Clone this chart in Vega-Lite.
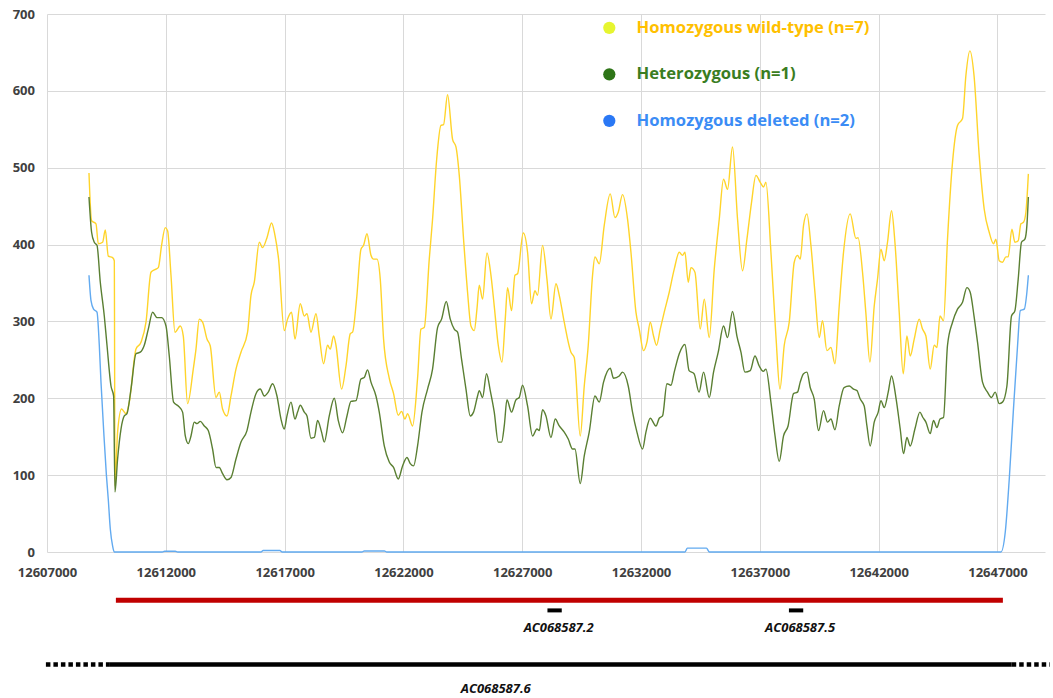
{
"$schema": "https://vega.github.io/schema/vega-lite/v6.json",
"padding": {"left": 12, "top": 8, "right": 0, "bottom": 0},
"autosize": {"type": "pad"},
"background": "white",
"bounds": "flush",
"spacing": 37,
"config": {"view": {"stroke": null}, "font": "Open Sans"},
"resolve": {"scale": {"x": "independent", "y": "independent"}},
"datasets": {
"genes": [{"gene": "AC068587.2", "start": 12628061, "end": 12628663}, {"gene": "AC068587.5", "start": 12638223, "end": 12638825}],
"cov": [
{"pos":12608767,"cov":493,"g":"wt"},{"pos":12608877,"cov":431,"g":"wt"},{"pos":12609062,"cov":427,"g":"wt"},{"pos":12609159,"cov":401,"g":"wt"},{"pos":12609340,"cov":403,"g":"wt"},{"pos":12609453,"cov":419,"g":"wt"},{"pos":12609580,"cov":385,"g":"wt"},{"pos":12609760,"cov":383,"g":"wt"},{"pos":12609832,"cov":379,"g":"wt"},{"pos":12609861,"cov":86,"g":"wt"},{"pos":12609971,"cov":156,"g":"wt"},{"pos":12610139,"cov":186,"g":"wt"},{"pos":12610324,"cov":180,"g":"wt"},{"pos":12610463,"cov":195,"g":"wt"},{"pos":12610745,"cov":264,"g":"wt"},{"pos":12610956,"cov":273,"g":"wt"},{"pos":12611166,"cov":299,"g":"wt"},{"pos":12611376,"cov":364,"g":"wt"},{"pos":12611515,"cov":367,"g":"wt"},{"pos":12611684,"cov":370,"g":"wt"},{"pos":12611822,"cov":399,"g":"wt"},{"pos":12611978,"cov":422,"g":"wt"},{"pos":12612075,"cov":418,"g":"wt"},{"pos":12612218,"cov":360,"g":"wt"},{"pos":12612386,"cov":286,"g":"wt"},{"pos":12612609,"cov":294,"g":"wt"},{"pos":12612736,"cov":281,"g":"wt"},{"pos":12612916,"cov":193,"g":"wt"},{"pos":12613156,"cov":238,"g":"wt"},{"pos":12613270,"cov":264,"g":"wt"},{"pos":12613409,"cov":303,"g":"wt"},{"pos":12613548,"cov":299,"g":"wt"},{"pos":12613733,"cov":277,"g":"wt"},{"pos":12613872,"cov":268,"g":"wt"},{"pos":12614112,"cov":201,"g":"wt"},{"pos":12614250,"cov":208,"g":"wt"},{"pos":12614389,"cov":186,"g":"wt"},{"pos":12614574,"cov":177,"g":"wt"},{"pos":12614743,"cov":203,"g":"wt"},{"pos":12614953,"cov":238,"g":"wt"},{"pos":12615164,"cov":260,"g":"wt"},{"pos":12615441,"cov":286,"g":"wt"},{"pos":12615584,"cov":334,"g":"wt"},{"pos":12615723,"cov":351,"g":"wt"},{"pos":12615934,"cov":403,"g":"wt"},{"pos":12616072,"cov":396,"g":"wt"},{"pos":12616258,"cov":409,"g":"wt"},{"pos":12616451,"cov":428,"g":"wt"},{"pos":12616594,"cov":412,"g":"wt"},{"pos":12616746,"cov":381,"g":"wt"},{"pos":12616986,"cov":288,"g":"wt"},{"pos":12617124,"cov":303,"g":"wt"},{"pos":12617293,"cov":312,"g":"wt"},{"pos":12617436,"cov":277,"g":"wt"},{"pos":12617659,"cov":323,"g":"wt"},{"pos":12617827,"cov":307,"g":"wt"},{"pos":12617941,"cov":310,"g":"wt"},{"pos":12618109,"cov":286,"g":"wt"},{"pos":12618320,"cov":310,"g":"wt"},{"pos":12618458,"cov":281,"g":"wt"},{"pos":12618639,"cov":245,"g":"wt"},{"pos":12618808,"cov":269,"g":"wt"},{"pos":12618921,"cov":264,"g":"wt"},{"pos":12619060,"cov":281,"g":"wt"},{"pos":12619161,"cov":269,"g":"wt"},{"pos":12619397,"cov":212,"g":"wt"},{"pos":12619582,"cov":242,"g":"wt"},{"pos":12619763,"cov":284,"g":"wt"},{"pos":12619860,"cov":286,"g":"wt"},{"pos":12620028,"cov":329,"g":"wt"},{"pos":12620213,"cov":394,"g":"wt"},{"pos":12620323,"cov":399,"g":"wt"},{"pos":12620466,"cov":414,"g":"wt"},{"pos":12620634,"cov":386,"g":"wt"},{"pos":12620743,"cov":381,"g":"wt"},{"pos":12620886,"cov":381,"g":"wt"},{"pos":12621025,"cov":355,"g":"wt"},{"pos":12621164,"cov":277,"g":"wt"},{"pos":12621404,"cov":226,"g":"wt"},{"pos":12621585,"cov":206,"g":"wt"},{"pos":12621783,"cov":178,"g":"wt"},{"pos":12621922,"cov":183,"g":"wt"},{"pos":12622065,"cov":173,"g":"wt"},{"pos":12622174,"cov":180,"g":"wt"},{"pos":12622384,"cov":164,"g":"wt"},{"pos":12622595,"cov":226,"g":"wt"},{"pos":12622738,"cov":290,"g":"wt"},{"pos":12622877,"cov":292,"g":"wt"},{"pos":12623087,"cov":381,"g":"wt"},{"pos":12623226,"cov":433,"g":"wt"},{"pos":12623394,"cov":509,"g":"wt"},{"pos":12623579,"cov":555,"g":"wt"},{"pos":12623689,"cov":556,"g":"wt"},{"pos":12623857,"cov":595,"g":"wt"},{"pos":12624068,"cov":537,"g":"wt"},{"pos":12624211,"cov":527,"g":"wt"},{"pos":12624350,"cov":490,"g":"wt"},{"pos":12624531,"cov":407,"g":"wt"},{"pos":12624699,"cov":338,"g":"wt"},{"pos":12624842,"cov":294,"g":"wt"},{"pos":12624981,"cov":288,"g":"wt"},{"pos":12625094,"cov":316,"g":"wt"},{"pos":12625191,"cov":347,"g":"wt"},{"pos":12625330,"cov":329,"g":"wt"},{"pos":12625515,"cov":389,"g":"wt"},{"pos":12625684,"cov":360,"g":"wt"},{"pos":12625822,"cov":320,"g":"wt"},{"pos":12625991,"cov":269,"g":"wt"},{"pos":12626146,"cov":247,"g":"wt"},{"pos":12626285,"cov":303,"g":"wt"},{"pos":12626382,"cov":344,"g":"wt"},{"pos":12626550,"cov":314,"g":"wt"},{"pos":12626693,"cov":360,"g":"wt"},{"pos":12626803,"cov":362,"g":"wt"},{"pos":12627043,"cov":415,"g":"wt"},{"pos":12627224,"cov":390,"g":"wt"},{"pos":12627392,"cov":323,"g":"wt"},{"pos":12627535,"cov":340,"g":"wt"},{"pos":12627644,"cov":334,"g":"wt"},{"pos":12627855,"cov":399,"g":"wt"},{"pos":12628040,"cov":355,"g":"wt"},{"pos":12628208,"cov":303,"g":"wt"},{"pos":12628419,"cov":349,"g":"wt"},{"pos":12628558,"cov":334,"g":"wt"},{"pos":12628768,"cov":299,"g":"wt"},{"pos":12629050,"cov":260,"g":"wt"},{"pos":12629189,"cov":253,"g":"wt"},{"pos":12629441,"cov":151,"g":"wt"},{"pos":12629610,"cov":216,"g":"wt"},{"pos":12629778,"cov":269,"g":"wt"},{"pos":12629959,"cov":360,"g":"wt"},{"pos":12630060,"cov":384,"g":"wt"},{"pos":12630241,"cov":375,"g":"wt"},{"pos":12630451,"cov":425,"g":"wt"},{"pos":12630704,"cov":466,"g":"wt"},{"pos":12630902,"cov":435,"g":"wt"},{"pos":12631040,"cov":442,"g":"wt"},{"pos":12631221,"cov":465,"g":"wt"},{"pos":12631432,"cov":433,"g":"wt"},{"pos":12631575,"cov":390,"g":"wt"},{"pos":12631785,"cov":312,"g":"wt"},{"pos":12631924,"cov":290,"g":"wt"},{"pos":12632105,"cov":262,"g":"wt"},{"pos":12632248,"cov":273,"g":"wt"},{"pos":12632387,"cov":299,"g":"wt"},{"pos":12632526,"cov":281,"g":"wt"},{"pos":12632652,"cov":269,"g":"wt"},{"pos":12632808,"cov":290,"g":"wt"},{"pos":12632976,"cov":312,"g":"wt"},{"pos":12633186,"cov":338,"g":"wt"},{"pos":12633397,"cov":368,"g":"wt"},{"pos":12633608,"cov":390,"g":"wt"},{"pos":12633746,"cov":386,"g":"wt"},{"pos":12633847,"cov":390,"g":"wt"},{"pos":12633986,"cov":351,"g":"wt"},{"pos":12634100,"cov":370,"g":"wt"},{"pos":12634268,"cov":364,"g":"wt"},{"pos":12634491,"cov":290,"g":"wt"},{"pos":12634660,"cov":329,"g":"wt"},{"pos":12634870,"cov":279,"g":"wt"},{"pos":12635081,"cov":368,"g":"wt"},{"pos":12635291,"cov":433,"g":"wt"},{"pos":12635471,"cov":485,"g":"wt"},{"pos":12635640,"cov":472,"g":"wt"},{"pos":12635850,"cov":527,"g":"wt"},{"pos":12636061,"cov":433,"g":"wt"},{"pos":12636271,"cov":366,"g":"wt"},{"pos":12636456,"cov":407,"g":"wt"},{"pos":12636650,"cov":455,"g":"wt"},{"pos":12636835,"cov":490,"g":"wt"},{"pos":12637016,"cov":481,"g":"wt"},{"pos":12637155,"cov":475,"g":"wt"},{"pos":12637255,"cov":481,"g":"wt"},{"pos":12637466,"cov":390,"g":"wt"},{"pos":12637676,"cov":281,"g":"wt"},{"pos":12637845,"cov":212,"g":"wt"},{"pos":12638026,"cov":269,"g":"wt"},{"pos":12638236,"cov":299,"g":"wt"},{"pos":12638447,"cov":377,"g":"wt"},{"pos":12638585,"cov":386,"g":"wt"},{"pos":12638699,"cov":381,"g":"wt"},{"pos":12638838,"cov":425,"g":"wt"},{"pos":12638981,"cov":440,"g":"wt"},{"pos":12639149,"cov":399,"g":"wt"},{"pos":12639317,"cov":338,"g":"wt"},{"pos":12639499,"cov":279,"g":"wt"},{"pos":12639637,"cov":301,"g":"wt"},{"pos":12639822,"cov":262,"g":"wt"},{"pos":12639991,"cov":266,"g":"wt"},{"pos":12640159,"cov":245,"g":"wt"},{"pos":12640340,"cov":320,"g":"wt"},{"pos":12640521,"cov":390,"g":"wt"},{"pos":12640803,"cov":440,"g":"wt"},{"pos":12641043,"cov":408,"g":"wt"},{"pos":12641132,"cov":409,"g":"wt"},{"pos":12641321,"cov":364,"g":"wt"},{"pos":12641459,"cov":312,"g":"wt"},{"pos":12641632,"cov":247,"g":"wt"},{"pos":12641813,"cov":320,"g":"wt"},{"pos":12641952,"cov":355,"g":"wt"},{"pos":12642095,"cov":394,"g":"wt"},{"pos":12642233,"cov":379,"g":"wt"},{"pos":12642372,"cov":403,"g":"wt"},{"pos":12642541,"cov":444,"g":"wt"},{"pos":12642684,"cov":403,"g":"wt"},{"pos":12642865,"cov":312,"g":"wt"},{"pos":12643033,"cov":232,"g":"wt"},{"pos":12643189,"cov":281,"g":"wt"},{"pos":12643328,"cov":255,"g":"wt"},{"pos":12643496,"cov":277,"g":"wt"},{"pos":12643706,"cov":303,"g":"wt"},{"pos":12643845,"cov":290,"g":"wt"},{"pos":12643988,"cov":281,"g":"wt"},{"pos":12644169,"cov":238,"g":"wt"},{"pos":12644338,"cov":269,"g":"wt"},{"pos":12644451,"cov":266,"g":"wt"},{"pos":12644582,"cov":307,"g":"wt"},{"pos":12644729,"cov":301,"g":"wt"},{"pos":12644897,"cov":407,"g":"wt"},{"pos":12645108,"cov":507,"g":"wt"},{"pos":12645318,"cov":555,"g":"wt"},{"pos":12645529,"cov":564,"g":"wt"},{"pos":12645671,"cov":620,"g":"wt"},{"pos":12645840,"cov":652,"g":"wt"},{"pos":12646013,"cov":620,"g":"wt"},{"pos":12646231,"cov":516,"g":"wt"},{"pos":12646442,"cov":446,"g":"wt"},{"pos":12646652,"cov":416,"g":"wt"},{"pos":12646833,"cov":401,"g":"wt"},{"pos":12646934,"cov":407,"g":"wt"},{"pos":12647073,"cov":379,"g":"wt"},{"pos":12647212,"cov":377,"g":"wt"},{"pos":12647355,"cov":384,"g":"wt"},{"pos":12647451,"cov":384,"g":"wt"},{"pos":12647607,"cov":420,"g":"wt"},{"pos":12647733,"cov":403,"g":"wt"},{"pos":12647872,"cov":405,"g":"wt"},{"pos":12647986,"cov":427,"g":"wt"},{"pos":12648095,"cov":429,"g":"wt"},{"pos":12648196,"cov":442,"g":"wt"},{"pos":12648300,"cov":492,"g":"wt"},
{"pos":12608767,"cov":462,"g":"het"},{"pos":12608877,"cov":416,"g":"het"},{"pos":12608990,"cov":403,"g":"het"},{"pos":12609104,"cov":399,"g":"het"},{"pos":12609243,"cov":351,"g":"het"},{"pos":12609411,"cov":307,"g":"het"},{"pos":12609525,"cov":269,"g":"het"},{"pos":12609693,"cov":216,"g":"het"},{"pos":12609803,"cov":203,"g":"het"},{"pos":12609861,"cov":78,"g":"het"},{"pos":12609971,"cov":121,"g":"het"},{"pos":12610114,"cov":160,"g":"het"},{"pos":12610253,"cov":177,"g":"het"},{"pos":12610366,"cov":180,"g":"het"},{"pos":12610535,"cov":212,"g":"het"},{"pos":12610745,"cov":258,"g":"het"},{"pos":12610926,"cov":260,"g":"het"},{"pos":12611094,"cov":269,"g":"het"},{"pos":12611263,"cov":290,"g":"het"},{"pos":12611444,"cov":312,"g":"het"},{"pos":12611629,"cov":305,"g":"het"},{"pos":12611822,"cov":305,"g":"het"},{"pos":12612008,"cov":294,"g":"het"},{"pos":12612146,"cov":255,"g":"het"},{"pos":12612327,"cov":195,"g":"het"},{"pos":12612525,"cov":190,"g":"het"},{"pos":12612706,"cov":182,"g":"het"},{"pos":12612820,"cov":151,"g":"het"},{"pos":12612946,"cov":141,"g":"het"},{"pos":12613060,"cov":151,"g":"het"},{"pos":12613198,"cov":169,"g":"het"},{"pos":12613312,"cov":167,"g":"het"},{"pos":12613451,"cov":170,"g":"het"},{"pos":12613619,"cov":164,"g":"het"},{"pos":12613787,"cov":158,"g":"het"},{"pos":12613968,"cov":134,"g":"het"},{"pos":12614112,"cov":110,"g":"het"},{"pos":12614250,"cov":110,"g":"het"},{"pos":12614389,"cov":102,"g":"het"},{"pos":12614574,"cov":94,"g":"het"},{"pos":12614743,"cov":97,"g":"het"},{"pos":12614953,"cov":121,"g":"het"},{"pos":12615164,"cov":143,"g":"het"},{"pos":12615416,"cov":158,"g":"het"},{"pos":12615584,"cov":182,"g":"het"},{"pos":12615795,"cov":206,"g":"het"},{"pos":12615976,"cov":212,"g":"het"},{"pos":12616144,"cov":203,"g":"het"},{"pos":12616312,"cov":208,"g":"het"},{"pos":12616493,"cov":219,"g":"het"},{"pos":12616678,"cov":203,"g":"het"},{"pos":12616847,"cov":173,"g":"het"},{"pos":12616986,"cov":160,"g":"het"},{"pos":12617099,"cov":177,"g":"het"},{"pos":12617268,"cov":195,"g":"het"},{"pos":12617436,"cov":173,"g":"het"},{"pos":12617545,"cov":182,"g":"het"},{"pos":12617659,"cov":191,"g":"het"},{"pos":12617827,"cov":182,"g":"het"},{"pos":12617941,"cov":177,"g":"het"},{"pos":12618109,"cov":148,"g":"het"},{"pos":12618248,"cov":149,"g":"het"},{"pos":12618387,"cov":171,"g":"het"},{"pos":12618555,"cov":156,"g":"het"},{"pos":12618669,"cov":143,"g":"het"},{"pos":12618879,"cov":177,"g":"het"},{"pos":12619090,"cov":200,"g":"het"},{"pos":12619258,"cov":171,"g":"het"},{"pos":12619439,"cov":155,"g":"het"},{"pos":12619624,"cov":177,"g":"het"},{"pos":12619792,"cov":196,"g":"het"},{"pos":12620003,"cov":197,"g":"het"},{"pos":12620213,"cov":225,"g":"het"},{"pos":12620352,"cov":227,"g":"het"},{"pos":12620491,"cov":237,"g":"het"},{"pos":12620634,"cov":221,"g":"het"},{"pos":12620844,"cov":203,"g":"het"},{"pos":12620983,"cov":182,"g":"het"},{"pos":12621194,"cov":138,"g":"het"},{"pos":12621404,"cov":117,"g":"het"},{"pos":12621585,"cov":110,"g":"het"},{"pos":12621783,"cov":95,"g":"het"},{"pos":12621964,"cov":112,"g":"het"},{"pos":12622149,"cov":123,"g":"het"},{"pos":12622288,"cov":115,"g":"het"},{"pos":12622427,"cov":112,"g":"het"},{"pos":12622595,"cov":138,"g":"het"},{"pos":12622780,"cov":182,"g":"het"},{"pos":12623016,"cov":212,"g":"het"},{"pos":12623226,"cov":238,"g":"het"},{"pos":12623436,"cov":292,"g":"het"},{"pos":12623605,"cov":303,"g":"het"},{"pos":12623803,"cov":326,"g":"het"},{"pos":12623971,"cov":303,"g":"het"},{"pos":12624139,"cov":290,"g":"het"},{"pos":12624278,"cov":286,"g":"het"},{"pos":12624446,"cov":251,"g":"het"},{"pos":12624632,"cov":212,"g":"het"},{"pos":12624812,"cov":177,"g":"het"},{"pos":12624951,"cov":182,"g":"het"},{"pos":12625120,"cov":203,"g":"het"},{"pos":12625191,"cov":210,"g":"het"},{"pos":12625330,"cov":201,"g":"het"},{"pos":12625498,"cov":232,"g":"het"},{"pos":12625654,"cov":210,"g":"het"},{"pos":12625822,"cov":182,"g":"het"},{"pos":12625991,"cov":143,"g":"het"},{"pos":12626130,"cov":143,"g":"het"},{"pos":12626243,"cov":164,"g":"het"},{"pos":12626357,"cov":198,"g":"het"},{"pos":12626550,"cov":182,"g":"het"},{"pos":12626735,"cov":198,"g":"het"},{"pos":12626874,"cov":201,"g":"het"},{"pos":12627013,"cov":217,"g":"het"},{"pos":12627224,"cov":190,"g":"het"},{"pos":12627434,"cov":151,"g":"het"},{"pos":12627619,"cov":160,"g":"het"},{"pos":12627716,"cov":158,"g":"het"},{"pos":12627855,"cov":185,"g":"het"},{"pos":12627998,"cov":177,"g":"het"},{"pos":12628208,"cov":149,"g":"het"},{"pos":12628389,"cov":173,"g":"het"},{"pos":12628558,"cov":164,"g":"het"},{"pos":12628768,"cov":156,"g":"het"},{"pos":12628936,"cov":147,"g":"het"},{"pos":12629117,"cov":134,"g":"het"},{"pos":12629218,"cov":134,"g":"het"},{"pos":12629441,"cov":89,"g":"het"},{"pos":12629610,"cov":125,"g":"het"},{"pos":12629819,"cov":156,"g":"het"},{"pos":12630060,"cov":203,"g":"het"},{"pos":12630241,"cov":195,"g":"het"},{"pos":12630422,"cov":221,"g":"het"},{"pos":12630704,"cov":239,"g":"het"},{"pos":12630843,"cov":226,"g":"het"},{"pos":12631083,"cov":229,"g":"het"},{"pos":12631221,"cov":234,"g":"het"},{"pos":12631461,"cov":216,"g":"het"},{"pos":12631642,"cov":182,"g":"het"},{"pos":12631827,"cov":156,"g":"het"},{"pos":12632063,"cov":134,"g":"het"},{"pos":12632206,"cov":156,"g":"het"},{"pos":12632387,"cov":174,"g":"het"},{"pos":12632627,"cov":164,"g":"het"},{"pos":12632766,"cov":174,"g":"het"},{"pos":12632905,"cov":177,"g":"het"},{"pos":12633090,"cov":219,"g":"het"},{"pos":12633258,"cov":217,"g":"het"},{"pos":12633397,"cov":234,"g":"het"},{"pos":12633608,"cov":258,"g":"het"},{"pos":12633847,"cov":270,"g":"het"},{"pos":12634021,"cov":236,"g":"het"},{"pos":12634231,"cov":232,"g":"het"},{"pos":12634442,"cov":208,"g":"het"},{"pos":12634630,"cov":234,"g":"het"},{"pos":12634870,"cov":201,"g":"het"},{"pos":12635051,"cov":234,"g":"het"},{"pos":12635248,"cov":260,"g":"het"},{"pos":12635471,"cov":294,"g":"het"},{"pos":12635640,"cov":279,"g":"het"},{"pos":12635850,"cov":313,"g":"het"},{"pos":12636035,"cov":281,"g":"het"},{"pos":12636204,"cov":260,"g":"het"},{"pos":12636372,"cov":234,"g":"het"},{"pos":12636595,"cov":236,"g":"het"},{"pos":12636793,"cov":255,"g":"het"},{"pos":12636974,"cov":242,"g":"het"},{"pos":12637142,"cov":235,"g":"het"},{"pos":12637255,"cov":238,"g":"het"},{"pos":12637466,"cov":195,"g":"het"},{"pos":12637639,"cov":151,"g":"het"},{"pos":12637815,"cov":118,"g":"het"},{"pos":12637996,"cov":151,"g":"het"},{"pos":12638187,"cov":164,"g":"het"},{"pos":12638417,"cov":206,"g":"het"},{"pos":12638585,"cov":208,"g":"het"},{"pos":12638699,"cov":221,"g":"het"},{"pos":12638838,"cov":232,"g":"het"},{"pos":12638981,"cov":234,"g":"het"},{"pos":12639120,"cov":214,"g":"het"},{"pos":12639288,"cov":199,"g":"het"},{"pos":12639469,"cov":158,"g":"het"},{"pos":12639679,"cov":184,"g":"het"},{"pos":12639848,"cov":169,"g":"het"},{"pos":12639991,"cov":173,"g":"het"},{"pos":12640159,"cov":159,"g":"het"},{"pos":12640340,"cov":190,"g":"het"},{"pos":12640543,"cov":214,"g":"het"},{"pos":12640761,"cov":216,"g":"het"},{"pos":12640942,"cov":212,"g":"het"},{"pos":12641085,"cov":210,"g":"het"},{"pos":12641224,"cov":199,"g":"het"},{"pos":12641392,"cov":190,"g":"het"},{"pos":12641506,"cov":164,"g":"het"},{"pos":12641644,"cov":138,"g":"het"},{"pos":12641813,"cov":169,"g":"het"},{"pos":12641981,"cov":182,"g":"het"},{"pos":12642095,"cov":197,"g":"het"},{"pos":12642233,"cov":188,"g":"het"},{"pos":12642402,"cov":208,"g":"het"},{"pos":12642541,"cov":229,"g":"het"},{"pos":12642726,"cov":201,"g":"het"},{"pos":12642907,"cov":160,"g":"het"},{"pos":12643046,"cov":128,"g":"het"},{"pos":12643189,"cov":149,"g":"het"},{"pos":12643328,"cov":138,"g":"het"},{"pos":12643525,"cov":160,"g":"het"},{"pos":12643736,"cov":182,"g":"het"},{"pos":12643862,"cov":175,"g":"het"},{"pos":12643988,"cov":169,"g":"het"},{"pos":12644169,"cov":154,"g":"het"},{"pos":12644308,"cov":171,"g":"het"},{"pos":12644451,"cov":162,"g":"het"},{"pos":12644582,"cov":173,"g":"het"},{"pos":12644729,"cov":175,"g":"het"},{"pos":12644897,"cov":269,"g":"het"},{"pos":12645108,"cov":299,"g":"het"},{"pos":12645318,"cov":316,"g":"het"},{"pos":12645529,"cov":325,"g":"het"},{"pos":12645714,"cov":344,"g":"het"},{"pos":12645852,"cov":338,"g":"het"},{"pos":12646013,"cov":307,"g":"het"},{"pos":12646160,"cov":273,"g":"het"},{"pos":12646370,"cov":221,"g":"het"},{"pos":12646580,"cov":208,"g":"het"},{"pos":12646749,"cov":201,"g":"het"},{"pos":12646904,"cov":208,"g":"het"},{"pos":12647073,"cov":193,"g":"het"},{"pos":12647212,"cov":195,"g":"het"},{"pos":12647397,"cov":216,"g":"het"},{"pos":12647590,"cov":307,"g":"het"},{"pos":12647733,"cov":314,"g":"het"},{"pos":12647872,"cov":355,"g":"het"},{"pos":12648011,"cov":403,"g":"het"},{"pos":12648154,"cov":407,"g":"het"},{"pos":12648238,"cov":425,"g":"het"},{"pos":12648300,"cov":462,"g":"het"},
{"pos":12608767,"cov":360,"g":"del"},{"pos":12608852,"cov":327,"g":"del"},{"pos":12608961,"cov":316,"g":"del"},{"pos":12609104,"cov":312,"g":"del"},{"pos":12609201,"cov":269,"g":"del"},{"pos":12609272,"cov":221,"g":"del"},{"pos":12609400,"cov":150,"g":"del"},{"pos":12609500,"cov":100,"g":"del"},{"pos":12609580,"cov":68,"g":"del"},{"pos":12609664,"cov":30,"g":"del"},{"pos":12609760,"cov":8,"g":"del"},{"pos":12609832,"cov":0,"g":"del"},{"pos":12611850,"cov":0,"g":"del"},{"pos":12611950,"cov":1,"g":"del"},{"pos":12612400,"cov":1,"g":"del"},{"pos":12612500,"cov":0,"g":"del"},{"pos":12616000,"cov":0,"g":"del"},{"pos":12616100,"cov":2,"g":"del"},{"pos":12616800,"cov":2,"g":"del"},{"pos":12616900,"cov":0,"g":"del"},{"pos":12620250,"cov":0,"g":"del"},{"pos":12620350,"cov":1.3,"g":"del"},{"pos":12621200,"cov":1.3,"g":"del"},{"pos":12621300,"cov":0,"g":"del"},{"pos":12633850,"cov":0,"g":"del"},{"pos":12633950,"cov":5,"g":"del"},{"pos":12634750,"cov":5,"g":"del"},{"pos":12634880,"cov":0,"g":"del"},{"pos":12647146,"cov":0,"g":"del"},{"pos":12647328,"cov":26,"g":"del"},{"pos":12647496,"cov":95,"g":"del"},{"pos":12647665,"cov":182,"g":"del"},{"pos":12647846,"cov":269,"g":"del"},{"pos":12647960,"cov":314,"g":"del"},{"pos":12648128,"cov":316,"g":"del"},{"pos":12648238,"cov":338,"g":"del"},{"pos":12648300,"cov":360,"g":"del"}
]
},
"vconcat": [
{
"width": 998,
"height": 538,
"data": {"name": "cov"},
"mark": {"type": "line", "interpolate": "monotone", "strokeWidth": 1.4},
"encoding": {
"x": {"field": "pos", "type": "quantitative",
"scale": {"domain": [12607000, 12649000], "nice": false, "zero": false},
"axis": {"title": null, "values": [12607000, 12612000, 12617000, 12622000, 12627000, 12632000, 12637000, 12642000, 12647000], "format": "d", "grid": true, "gridColor": "#d9d9d9", "gridWidth": 1, "domain": false, "ticks": false, "tickSize": 0, "labelPadding": 14, "labelFlush": false, "labelFont": "Open Sans", "labelFontSize": 13, "labelFontWeight": "bold", "labelColor": "#404040"}},
"y": {"field": "cov", "type": "quantitative",
"scale": {"domain": [0, 700], "nice": false},
"axis": {"title": null, "values": [0, 100, 200, 300, 400, 500, 600, 700], "grid": true, "gridColor": "#d9d9d9", "gridWidth": 1, "domain": false, "ticks": false, "tickSize": 0, "labelPadding": 12.5, "labelFont": "Open Sans", "labelFontSize": 13, "labelFontWeight": "bold", "labelColor": "#404040"}},
"color": {"field": "g", "type": "nominal",
"scale": {"domain": ["wt", "het", "del"], "range": ["#ffd42a", "#5a7f32", "#62aaf0"]},
"legend": {"title": null, "orient": "none", "legendX": 554, "legendY": 5.5, "padding": 0,
"symbolType": "circle", "symbolSize": 150, "symbolStrokeWidth": 0, "labelOffset": 19, "rowPadding": 29.5, "labelLimit": 500,
"labelFont": "Open Sans", "labelFontSize": 16.6, "labelFontWeight": "bold",
"labelExpr": "datum.value === 'wt' ? 'Homozygous wild-type (n=7)' : datum.value === 'het' ? 'Heterozygous (n=1)' : 'Homozygous deleted (n=2)'",
"labelColor": {"expr": "datum.value === 'wt' ? '#ffc000' : datum.value === 'het' ? '#3a7d22' : '#3b8cf5'"},
"symbolFillColor": {"expr": "datum.value === 'wt' ? '#e6f530' : datum.value === 'het' ? '#2e7518' : '#2a78f5'"},
"encode": {
"symbols": {"update": {"strokeWidth": {"value": 0}}}
}}}
}
},
{
"width": 998,
"height": 105,
"encoding": {
"x": {"type": "quantitative", "scale": {"domain": [12607000, 12649000], "nice": false, "zero": false}, "axis": null},
"y": {"type": "quantitative", "scale": {"domain": [0, 105], "reverse": true, "nice": false, "zero": false}, "axis": null}
},
"layer": [
{
"data": {"values": [{"region": "deleted region", "start": 12609899, "end": 12647228}]},
"mark": {"type": "rule", "color": "#c00000", "strokeWidth": 5},
"encoding": {"x": {"field": "start"}, "x2": {"field": "end"}, "y": {"datum": 11.2}}
},
{
"data": {"name": "genes"},
"mark": {"type": "rule", "color": "#000000", "strokeWidth": 4},
"encoding": {"x": {"field": "start"}, "x2": {"field": "end"}, "y": {"datum": 21.4}}
},
{
"data": {"name": "genes"},
"transform": [{"calculate": "(datum.start + datum.end) / 2", "as": "mid"}],
"mark": {"type": "text", "font": "Open Sans", "fontSize": 13, "fontWeight": "bold", "fontStyle": "italic", "color": "#111111", "baseline": "middle", "align": "center", "dx": 4},
"encoding": {"x": {"field": "mid"}, "y": {"datum": 38.7}, "text": {"field": "gene"}}
},
{
"data": {"values": [{"gene": "AC068587.6", "start": 12609613, "end": 12647599}]},
"mark": {"type": "rule", "color": "#000000", "strokeWidth": 4.5},
"encoding": {"x": {"field": "start"}, "x2": {"field": "end"}, "y": {"datum": 75.5}}
},
{
"data": {"values": [{"gene": "AC068587.6", "start": 12606954, "end": 12609613}, {"gene": "AC068587.6", "start": 12647599, "end": 12649202}]},
"mark": {"type": "rule", "color": "#000000", "strokeWidth": 4.5, "strokeDash": [4.5, 3]},
"encoding": {"x": {"field": "start"}, "x2": {"field": "end"}, "y": {"datum": 75.5}}
},
{
"data": {"values": [{"gene": "AC068587.6", "label_pos": 12625886}]},
"mark": {"type": "text", "font": "Open Sans", "fontSize": 13, "fontWeight": "bold", "fontStyle": "italic", "color": "#111111", "baseline": "middle", "align": "center"},
"encoding": {"x": {"field": "label_pos"}, "y": {"datum": 99.7}, "text": {"field": "gene"}}
}
]
}
]
}
